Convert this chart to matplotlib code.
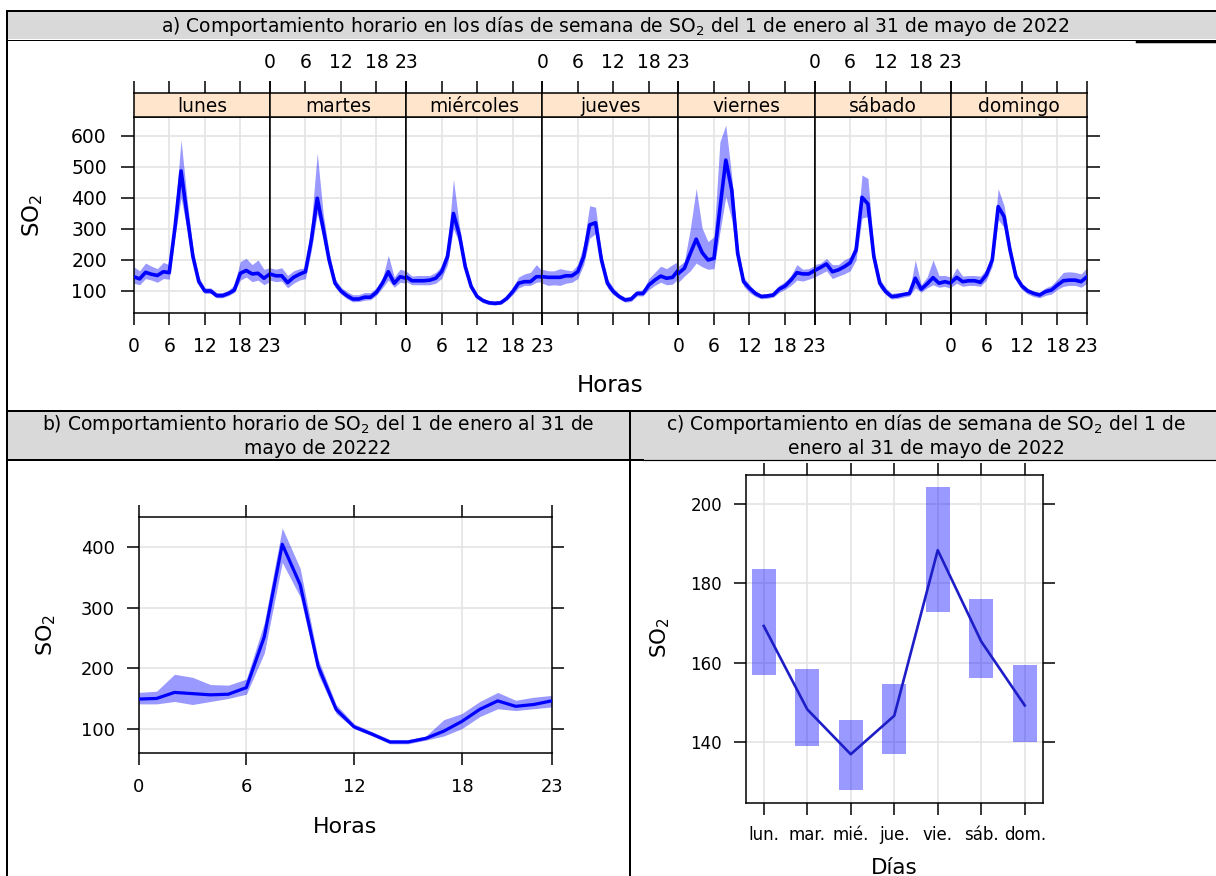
import numpy as np
import matplotlib.pyplot as plt
from matplotlib.patches import Rectangle

plt.rcParams['font.family'] = ['DejaVu Sans']

# ==== data ====
horas = list(range(24))
dias_a = ['lunes', 'martes', 'miércoles', 'jueves', 'viernes', 'sábado', 'domingo']

lunes_mean = [146, 139, 160, 154, 150, 162, 159, 310, 487, 345, 211, 130, 100, 100, 85, 85, 92, 103, 157, 166, 155, 157, 141, 155]
lunes_hi = [178, 165, 190, 180, 172, 192, 185, 360, 587, 400, 235, 145, 110, 110, 95, 95, 102, 120, 195, 205, 185, 200, 170, 175]
lunes_lo = [125, 120, 140, 135, 128, 140, 138, 280, 400, 300, 190, 120, 92, 92, 78, 78, 85, 95, 135, 145, 130, 135, 120, 130]

martes_mean = [155, 149, 149, 127, 144, 154, 162, 264, 399, 302, 200, 125, 100, 85, 74, 74, 80, 80, 96, 125, 162, 125, 146, 141]
martes_hi = [175, 170, 175, 150, 165, 172, 175, 320, 545, 350, 225, 140, 112, 98, 88, 88, 95, 95, 110, 140, 215, 145, 170, 165]
martes_lo = [135, 130, 132, 110, 125, 135, 140, 230, 350, 270, 180, 112, 90, 75, 65, 66, 70, 72, 86, 110, 135, 112, 128, 125]

miercoles_mean = [146, 133, 133, 133, 135, 141, 162, 211, 350, 281, 178, 114, 82, 69, 62, 60, 62, 76, 98, 125, 130, 130, 146, 146]
miercoles_hi = [165, 148, 150, 150, 150, 160, 180, 240, 460, 310, 195, 125, 90, 76, 69, 68, 70, 85, 110, 145, 155, 160, 185, 165]
miercoles_lo = [130, 120, 120, 120, 120, 125, 140, 185, 300, 255, 165, 105, 75, 62, 56, 55, 57, 70, 88, 110, 118, 118, 128, 130]

jueves_mean = [146, 144, 144, 144, 149, 149, 162, 211, 313, 320, 200, 125, 98, 82, 71, 74, 92, 92, 119, 135, 148, 141, 144, 168]
jueves_hi = [170, 165, 165, 172, 168, 165, 185, 250, 375, 370, 220, 140, 110, 90, 80, 82, 102, 102, 140, 160, 180, 172, 185, 195]
jueves_lo = [125, 118, 120, 118, 125, 128, 140, 185, 270, 285, 180, 110, 88, 74, 64, 66, 84, 84, 104, 118, 128, 120, 122, 140]

viernes_mean = [157, 173, 221, 267, 224, 200, 205, 365, 522, 426, 221, 130, 109, 92, 82, 84, 87, 106, 116, 135, 159, 155, 155, 166]
viernes_hi = [180, 195, 300, 431, 303, 259, 275, 581, 635, 470, 250, 145, 120, 100, 90, 92, 95, 118, 130, 150, 185, 170, 172, 182]
viernes_lo = [128, 148, 165, 190, 178, 170, 172, 290, 404, 330, 190, 115, 95, 82, 75, 76, 80, 95, 105, 118, 135, 132, 138, 145]

sabado_mean = [166, 176, 187, 162, 168, 178, 191, 232, 402, 381, 211, 125, 98, 82, 84, 89, 92, 141, 106, 123, 143, 125, 130, 125]
sabado_hi = [185, 190, 205, 185, 185, 200, 210, 255, 474, 463, 235, 140, 110, 92, 95, 95, 98, 200, 120, 145, 200, 150, 150, 145]
sabado_lo = [145, 155, 165, 140, 148, 155, 165, 200, 335, 340, 185, 110, 88, 74, 76, 80, 84, 110, 96, 110, 120, 112, 115, 108]

domingo_mean = [127, 144, 130, 133, 133, 128, 152, 200, 372, 340, 232, 146, 116, 100, 92, 87, 98, 103, 119, 133, 135, 135, 130, 146]
domingo_hi = [140, 175, 148, 150, 150, 148, 170, 225, 430, 375, 250, 160, 125, 108, 100, 96, 110, 118, 138, 160, 162, 160, 155, 175]
domingo_lo = [112, 125, 115, 118, 118, 115, 135, 180, 330, 305, 215, 135, 105, 90, 82, 78, 86, 90, 105, 115, 118, 118, 112, 125]

hora_mean = [149, 150, 160, 158, 156, 157, 168, 252, 405, 338, 203, 132, 103, 91, 78, 78, 84, 96, 112, 132, 146, 137, 140, 146]
hora_hi = [160, 162, 190, 185, 173, 172, 182, 275, 432, 365, 215, 140, 108, 95, 82, 82, 88, 115, 125, 145, 160, 147, 152, 155]
hora_lo = [141, 141, 145, 140, 145, 150, 157, 225, 375, 318, 190, 125, 100, 88, 75, 75, 81, 88, 100, 120, 133, 130, 133, 136]

dias_c = ['lun.', 'mar.', 'mié.', 'jue.', 'vie.', 'sáb.', 'dom.']
dia_mean = [169.2, 148.2, 136.9, 146.6, 188.3, 165.3, 149.2]
dia_hi = [183.6, 158.3, 145.5, 154.5, 204.1, 176.1, 159.3]
dia_lo = [156.9, 139.1, 127.9, 136.9, 172.7, 156.0, 140.1]

series_a = [
    (lunes_mean, lunes_lo, lunes_hi),
    (martes_mean, martes_lo, martes_hi),
    (miercoles_mean, miercoles_lo, miercoles_hi),
    (jueves_mean, jueves_lo, jueves_hi),
    (viernes_mean, viernes_lo, viernes_hi),
    (sabado_mean, sabado_lo, sabado_hi),
    (domingo_mean, domingo_lo, domingo_hi),
]

SO2 = '$\\mathregular{SO_2}$'
W, H = 1216, 876
fig = plt.figure(figsize=(W / 100, H / 100), dpi=100)


def px_axes(x0, y0, x1, y1):
    # axes from pixel box (y measured from the top)
    return fig.add_axes([x0 / W, 1 - y1 / H, (x1 - x0) / W, (y1 - y0) / H])


def pt(px):
    return px * 0.72


grid_col = '#e4e4e4'

# ==== table frame and headers ====
bg = fig.add_axes([0, 0, 1, 1])
bg.set_xlim(0, W)
bg.set_ylim(H, 0)
bg.axis('off')
bg.add_patch(Rectangle((7, 11), W - 7, 28, fc='#d9d9d9', ec='none'))
bg.add_patch(Rectangle((7, 411), W - 7, 49, fc='#d9d9d9', ec='none'))
bg.plot([7, W], [11, 11], color='black', lw=pt(2))
bg.plot([7, W], [39.5, 39.5], color='black', lw=pt(1))
bg.plot([1137, W], [41.5, 41.5], color='black', lw=pt(2.5))
bg.plot([7, 7], [11, H], color='black', lw=pt(2))
bg.plot([7, W], [411, 411], color='black', lw=pt(2))
bg.plot([7, 643], [460, 460], color='black', lw=pt(2))
bg.plot([643, W], [460, 460], color='black', lw=pt(1.2))
bg.plot([630, 630], [411, H], color='black', lw=pt(2))

hfs = 13.5
bg.text(615, 25.5, 'a) Comportamiento horario en los días de semana de ' + SO2 +
        ' del 1 de enero al 31 de mayo de 2022', ha='center', va='center', fontsize=hfs)
bg.text(318, 424, 'b) Comportamiento horario de ' + SO2 + ' del 1 de enero al 31 de',
        ha='center', va='center', fontsize=hfs)
bg.text(318, 448, 'mayo de 20222', ha='center', va='center', fontsize=hfs)
bg.text(926, 424, 'c) Comportamiento en días de semana de ' + SO2 + ' del 1 de',
        ha='center', va='center', fontsize=hfs)
bg.text(926, 448, 'enero al 31 de mayo de 2022', ha='center', va='center', fontsize=hfs)

# ==== panel a: hour by weekday ====
xt = [0, 6, 12, 18, 23]
x0 = 133.7
pw = (1087 - 133.7) / 7
for i, (name, (m, lo, hi)) in enumerate(zip(dias_a, series_a)):
    left, right = x0 + i * pw, x0 + (i + 1) * pw
    ax = px_axes(left, 117, right, 313)
    ax.fill_between(horas, lo, hi, color='blue', alpha=0.4, lw=0, zorder=2)
    ax.plot(horas, m, color='blue', lw=2.6, zorder=3)
    ax.set_xlim(0, 23)
    ax.set_ylim(29, 661)
    ax.set_xticks(xt)
    ax.set_yticks(range(100, 700, 100))
    ax.grid(True, color=grid_col, lw=1.2, zorder=0)
    ax.set_axisbelow(True)
    for s in ax.spines.values():
        s.set_linewidth(1.1)
    ax.tick_params(axis='x', direction='out', length=pt(12), width=1.1,
                   labelsize=13.5, pad=8.3, labelbottom=(i % 2 == 0))
    if i == 0:
        ax.tick_params(axis='y', direction='out', length=pt(13), width=1.1,
                       labelsize=13.5, pad=10)
    elif i == 6:
        ax.yaxis.tick_right()
        ax.tick_params(axis='y', direction='out', length=pt(13), width=1.1,
                       labelright=False)
    else:
        ax.tick_params(axis='y', left=False, labelleft=False)

    st = px_axes(left, 93, right, 117)
    st.set_facecolor('#ffe5cc')
    st.set_xlim(0, 23)
    st.set_yticks([])
    st.xaxis.tick_top()
    st.set_xticks(xt)
    for s in st.spines.values():
        s.set_linewidth(1.1)
    st.tick_params(axis='x', direction='out', length=pt(12), width=1.1,
                   labelsize=13.5, pad=6.5, labeltop=(i % 2 == 1))
    st.text(0.5, 0.45, name, transform=st.transAxes, ha='center', va='center',
            fontsize=13.4)

bg.text(610, 385, 'Horas', ha='center', va='center', fontsize=16.5)
bg.text(33, 215, SO2, ha='center', va='center', rotation=90, fontsize=16.5)

# ==== panel b: by hour ====
axb = px_axes(138.6, 517.3, 551.6, 752.7)
axb.fill_between(horas, hora_lo, hora_hi, color='blue', alpha=0.4, lw=0, zorder=2)
axb.plot(horas, hora_mean, color='blue', lw=2.3, zorder=3)
axb.set_xlim(0, 23)
axb.set_ylim(60.3, 449.6)
axb.set_xticks(xt)
axb.set_yticks([100, 200, 300, 400])
axb.grid(True, color=grid_col, lw=1.2, zorder=0)
axb.set_axisbelow(True)
for s in axb.spines.values():
    s.set_linewidth(1.1)
axb.tick_params(direction='out', length=pt(12), width=1.1, labelsize=12.9,
                top=True, right=True)
axb.tick_params(axis='x', pad=9.4)
axb.tick_params(axis='y', pad=8.6)
bg.text(345, 827, 'Horas', ha='center', va='center', fontsize=15.9)
bg.text(46, 635, SO2, ha='center', va='center', rotation=90, fontsize=15.9)

# ==== panel c: by weekday ====
axc = px_axes(745.5, 474.7, 1043, 802.7)
xc = np.arange(len(dias_c))
axc.bar(xc, np.array(dia_hi) - np.array(dia_lo), bottom=dia_lo, width=0.55,
        color='blue', alpha=0.4, lw=0, zorder=2)
axc.plot(xc, dia_mean, color='#1e1ec8', lw=1.9, zorder=3)
axc.set_xlim(-0.42, 6.42)
axc.set_ylim(124.7, 207.3)
axc.set_xticks(xc)
axc.set_xticklabels(dias_c)
axc.set_yticks([140, 160, 180, 200])
axc.grid(True, color=grid_col, lw=1.2, zorder=0)
axc.set_axisbelow(True)
for s in axc.spines.values():
    s.set_linewidth(1.1)
axc.tick_params(direction='out', length=pt(12), width=1.1, labelsize=12,
                top=True, right=True, pad=8.3)
bg.text(894, 868, 'Días', ha='center', va='center', fontsize=15.4)
bg.text(660, 638, SO2, ha='center', va='center', rotation=90, fontsize=15.4)

fig.savefig('out.png', dpi=100)
